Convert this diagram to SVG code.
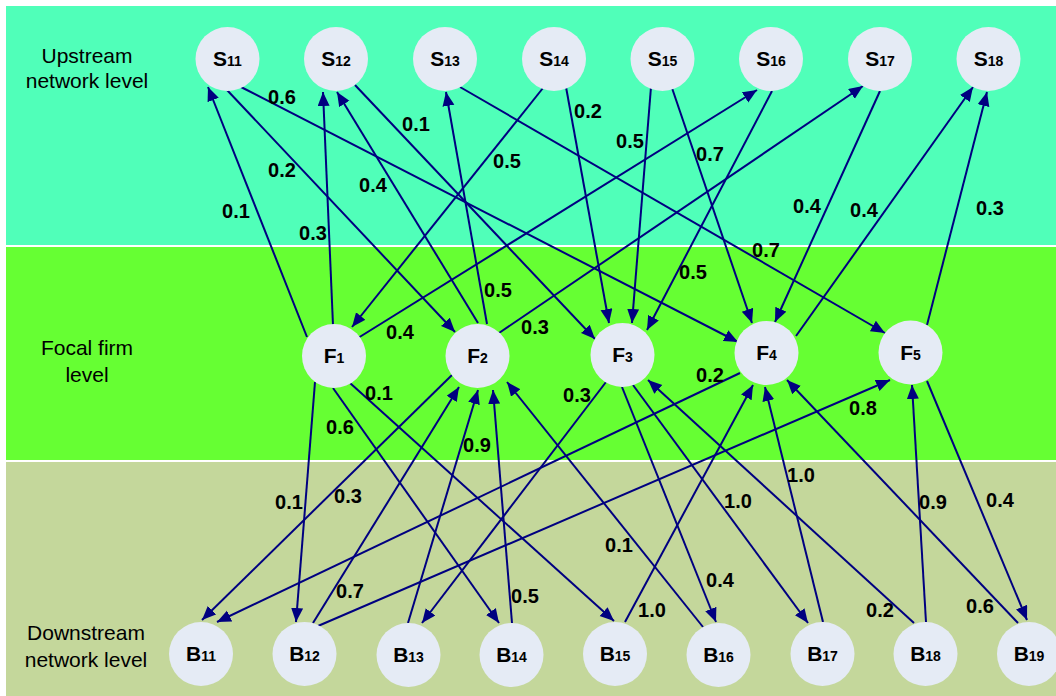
<svg xmlns="http://www.w3.org/2000/svg" width="1056" height="696" viewBox="0 0 1056 696">
<style>
.ln{stroke:#000080;stroke-width:2;fill:none;marker-end:url(#ah)}
.nd{fill:#E5EBF5}
.nt{font-family:"Liberation Sans",Arial,sans-serif;font-weight:bold;text-anchor:middle;fill:#000}
.m{font-size:21px}
.s{font-size:14px}
.w{font-family:"Liberation Sans",Arial,sans-serif;font-weight:bold;font-size:20px;text-anchor:middle;dominant-baseline:central;fill:#000}
.lv{font-family:"Liberation Sans",Arial,sans-serif;font-size:21px;text-anchor:middle;fill:#000}
</style>
<defs>
<marker id="ah" markerUnits="userSpaceOnUse" markerWidth="15" markerHeight="13" refX="14" refY="6" orient="auto">
<path d="M0,0 L14,6 L0,12 z" fill="#000080"/>
</marker>
</defs>
<rect x="0" y="0" width="1056" height="696" fill="#FFFFFF"/>
<g id="bands">
<rect x="6" y="6" width="1050" height="239" fill="#50FFB9"/>
<rect x="6" y="247" width="1050" height="213" fill="#66FF33"/>
<rect x="6" y="462" width="1050" height="234" fill="#C4D79B"/>
</g>
<g id="level-labels">
<text class="lv" x="87" y="63">Upstream</text>
<text class="lv" x="87" y="88">network level</text>
<text class="lv" x="87" y="355">Focal firm</text>
<text class="lv" x="87" y="382">level</text>
<text class="lv" x="86" y="640">Downstream</text>
<text class="lv" x="86" y="667">network level</text>
</g>
<g id="connectors">
<line class="ln" x1="307" y1="337" x2="208" y2="87"/>
<line class="ln" x1="333" y1="325" x2="323" y2="92"/>
<line class="ln" x1="227" y1="90" x2="455" y2="332"/>
<line class="ln" x1="241" y1="87" x2="738" y2="342"/>
<line class="ln" x1="478" y1="323" x2="337" y2="92"/>
<line class="ln" x1="355" y1="85" x2="595" y2="339"/>
<line class="ln" x1="487" y1="324" x2="446" y2="92"/>
<line class="ln" x1="460" y1="87" x2="885" y2="333"/>
<line class="ln" x1="543" y1="88" x2="352" y2="327"/>
<line class="ln" x1="566" y1="87" x2="609" y2="323"/>
<line class="ln" x1="651" y1="87" x2="632" y2="323"/>
<line class="ln" x1="672" y1="88" x2="752" y2="323"/>
<line class="ln" x1="358" y1="338" x2="757" y2="90"/>
<line class="ln" x1="772" y1="91" x2="647" y2="330"/>
<line class="ln" x1="499" y1="333" x2="863" y2="86"/>
<line class="ln" x1="880" y1="91" x2="775" y2="322"/>
<line class="ln" x1="796" y1="336" x2="973" y2="87"/>
<line class="ln" x1="927" y1="325" x2="987" y2="92"/>
<line class="ln" x1="315" y1="382" x2="296" y2="622"/>
<line class="ln" x1="452" y1="375" x2="202" y2="620"/>
<line class="ln" x1="333" y1="388" x2="499" y2="623"/>
<line class="ln" x1="350" y1="383" x2="614" y2="621"/>
<line class="ln" x1="313" y1="623" x2="459" y2="387"/>
<line class="ln" x1="408" y1="623" x2="478" y2="390"/>
<line class="ln" x1="512" y1="623" x2="493" y2="390"/>
<line class="ln" x1="703" y1="627" x2="507" y2="382"/>
<line class="ln" x1="606" y1="382" x2="422" y2="623"/>
<line class="ln" x1="740" y1="373" x2="217" y2="622"/>
<line class="ln" x1="318" y1="626" x2="890" y2="380"/>
<line class="ln" x1="625" y1="622" x2="753" y2="385"/>
<line class="ln" x1="823" y1="622" x2="765" y2="387"/>
<line class="ln" x1="1018" y1="623" x2="787" y2="380"/>
<line class="ln" x1="914" y1="623" x2="648" y2="380"/>
<line class="ln" x1="622" y1="387" x2="716" y2="622"/>
<line class="ln" x1="633" y1="385" x2="808" y2="623"/>
<line class="ln" x1="926" y1="622" x2="912" y2="385"/>
<line class="ln" x1="927" y1="381" x2="1027" y2="620"/>
</g>
<g id="weights">
<text class="w" x="282" y="97">0.6</text>
<text class="w" x="282" y="170">0.2</text>
<text class="w" x="236" y="211">0.1</text>
<text class="w" x="313" y="233">0.3</text>
<text class="w" x="373" y="185">0.4</text>
<text class="w" x="416" y="124">0.1</text>
<text class="w" x="507" y="161">0.5</text>
<text class="w" x="588" y="111">0.2</text>
<text class="w" x="630" y="141">0.5</text>
<text class="w" x="710" y="154">0.7</text>
<text class="w" x="807" y="206">0.4</text>
<text class="w" x="864" y="210">0.4</text>
<text class="w" x="990" y="208">0.3</text>
<text class="w" x="766" y="250">0.7</text>
<text class="w" x="693" y="272">0.5</text>
<text class="w" x="498" y="290">0.5</text>
<text class="w" x="400" y="332">0.4</text>
<text class="w" x="535" y="327">0.3</text>
<text class="w" x="379" y="393">0.1</text>
<text class="w" x="340" y="427">0.6</text>
<text class="w" x="477" y="445">0.9</text>
<text class="w" x="577" y="395">0.3</text>
<text class="w" x="710" y="375">0.2</text>
<text class="w" x="863" y="408">0.8</text>
<text class="w" x="289" y="502">0.1</text>
<text class="w" x="348" y="496">0.3</text>
<text class="w" x="350" y="591">0.7</text>
<text class="w" x="525" y="596">0.5</text>
<text class="w" x="619" y="545">0.1</text>
<text class="w" x="652" y="610">1.0</text>
<text class="w" x="801" y="475">1.0</text>
<text class="w" x="738" y="501">1.0</text>
<text class="w" x="933" y="502">0.9</text>
<text class="w" x="1000" y="500">0.4</text>
<text class="w" x="720" y="580">0.4</text>
<text class="w" x="880" y="610">0.2</text>
<text class="w" x="980" y="606">0.6</text>
</g>
<g id="S11"><circle class="nd" cx="227.5" cy="59" r="32"/><text class="nt" x="227.5" y="66"><tspan class="m">S</tspan><tspan class="s">11</tspan></text></g>
<g id="S12"><circle class="nd" cx="336" cy="59" r="32"/><text class="nt" x="336" y="66"><tspan class="m">S</tspan><tspan class="s">12</tspan></text></g>
<g id="S13"><circle class="nd" cx="445" cy="59" r="32"/><text class="nt" x="445" y="66"><tspan class="m">S</tspan><tspan class="s">13</tspan></text></g>
<g id="S14"><circle class="nd" cx="554" cy="59" r="32"/><text class="nt" x="554" y="66"><tspan class="m">S</tspan><tspan class="s">14</tspan></text></g>
<g id="S15"><circle class="nd" cx="662.5" cy="59" r="32"/><text class="nt" x="662.5" y="66"><tspan class="m">S</tspan><tspan class="s">15</tspan></text></g>
<g id="S16"><circle class="nd" cx="771" cy="59" r="32"/><text class="nt" x="771" y="66"><tspan class="m">S</tspan><tspan class="s">16</tspan></text></g>
<g id="S17"><circle class="nd" cx="880" cy="59" r="32"/><text class="nt" x="880" y="66"><tspan class="m">S</tspan><tspan class="s">17</tspan></text></g>
<g id="S18"><circle class="nd" cx="988.5" cy="59" r="32"/><text class="nt" x="988.5" y="66"><tspan class="m">S</tspan><tspan class="s">18</tspan></text></g>
<g id="F1"><circle class="nd" cx="334" cy="356" r="32"/><text class="nt" x="334" y="363"><tspan class="m">F</tspan><tspan class="s">1</tspan></text></g>
<g id="F2"><circle class="nd" cx="477.5" cy="356" r="32"/><text class="nt" x="477.5" y="363"><tspan class="m">F</tspan><tspan class="s">2</tspan></text></g>
<g id="F3"><circle class="nd" cx="622.5" cy="355" r="32"/><text class="nt" x="622.5" y="362"><tspan class="m">F</tspan><tspan class="s">3</tspan></text></g>
<g id="F4"><circle class="nd" cx="766.5" cy="353" r="32"/><text class="nt" x="766.5" y="360"><tspan class="m">F</tspan><tspan class="s">4</tspan></text></g>
<g id="F5"><circle class="nd" cx="910.5" cy="352.5" r="32"/><text class="nt" x="910.5" y="359.5"><tspan class="m">F</tspan><tspan class="s">5</tspan></text></g>
<g id="B11"><circle class="nd" cx="201" cy="654" r="32"/><text class="nt" x="201" y="661"><tspan class="m">B</tspan><tspan class="s">11</tspan></text></g>
<g id="B12"><circle class="nd" cx="304.5" cy="654" r="32"/><text class="nt" x="304.5" y="661"><tspan class="m">B</tspan><tspan class="s">12</tspan></text></g>
<g id="B13"><circle class="nd" cx="408.5" cy="655" r="32"/><text class="nt" x="408.5" y="662"><tspan class="m">B</tspan><tspan class="s">13</tspan></text></g>
<g id="B14"><circle class="nd" cx="511.5" cy="655" r="32"/><text class="nt" x="511.5" y="662"><tspan class="m">B</tspan><tspan class="s">14</tspan></text></g>
<g id="B15"><circle class="nd" cx="615" cy="654" r="32"/><text class="nt" x="615" y="661"><tspan class="m">B</tspan><tspan class="s">15</tspan></text></g>
<g id="B16"><circle class="nd" cx="718.5" cy="655" r="32"/><text class="nt" x="718.5" y="662"><tspan class="m">B</tspan><tspan class="s">16</tspan></text></g>
<g id="B17"><circle class="nd" cx="822.5" cy="654" r="32"/><text class="nt" x="822.5" y="661"><tspan class="m">B</tspan><tspan class="s">17</tspan></text></g>
<g id="B18"><circle class="nd" cx="925.5" cy="654" r="32"/><text class="nt" x="925.5" y="661"><tspan class="m">B</tspan><tspan class="s">18</tspan></text></g>
<g id="B19"><circle class="nd" cx="1029" cy="654" r="32"/><text class="nt" x="1029" y="661"><tspan class="m">B</tspan><tspan class="s">19</tspan></text></g>
</svg>
